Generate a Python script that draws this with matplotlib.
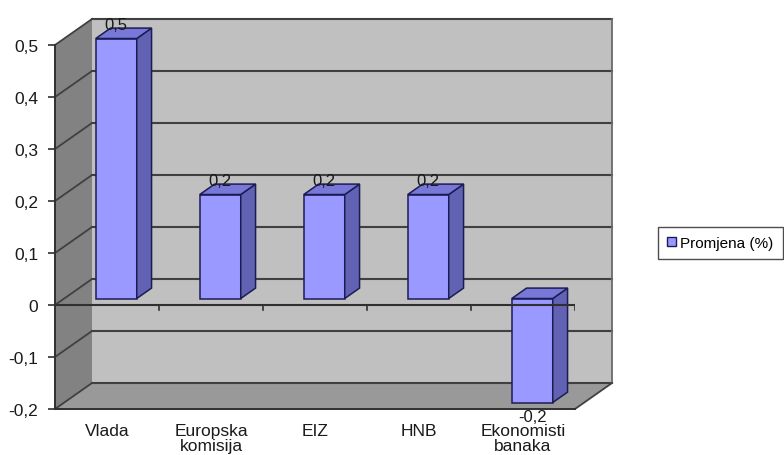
import matplotlib.pyplot as plt
from matplotlib.patches import Polygon, Patch

plt.rcParams['font.family'] = ['Liberation Sans', 'DejaVu Sans']

# data
categories = ['Vlada', 'Europska\nkomisija', 'EIZ', 'HNB', 'Ekonomisti\nbanaka']
values = [0.5, 0.2, 0.2, 0.2, -0.2]
yticks = [-0.2, -0.1, 0, 0.1, 0.2, 0.3, 0.4, 0.5]
ytick_labels = ['-0,2', '-0,1', '0', '0,1', '0,2', '0,3', '0,4', '0,5']
series_name = 'Promjena (%)'

# 3d look: depth offset in data units
DX, DY = 0.356, 0.05
f0, f1 = 0.25, 0.65   # bar depth (front, back) as fraction of full depth
half_w = 0.197

front_col = '#9999FF'
top_col = '#7878D8'
side_col = '#6262B4'
edge_col = '#1C1C55'
grid_col = '#404040'
txt_col = '#1a1a1a'

fig = plt.figure(figsize=(7.84, 4.56), dpi=100)
ax = fig.add_axes([55 / 784, 46 / 456, 520 / 784, 364 / 456])
n = len(categories)
ymin, ymax = yticks[0], yticks[-1]
ax.set_xlim(0, n)
ax.set_ylim(ymin, ymax)

# walls and floor
side = Polygon([(0, ymin), (0, ymax), (DX, ymax + DY), (DX, ymin + DY)],
               closed=True, fc='#828282', ec='none', clip_on=False, zorder=0)
back = Polygon([(DX, ymin + DY), (DX, ymax + DY), (n + DX, ymax + DY), (n + DX, ymin + DY)],
               closed=True, fc='#c0c0c0', ec='none', clip_on=False, zorder=0)
floor = Polygon([(0, ymin), (n, ymin), (n + DX, ymin + DY), (DX, ymin + DY)],
                closed=True, fc='#999999', ec='none', clip_on=False, zorder=0)
for p in (side, back, floor):
    ax.add_patch(p)

# gridlines on back wall and side wall
for v in yticks:
    ax.plot([DX, n + DX], [v + DY, v + DY], color=grid_col, lw=1.5, clip_on=False, zorder=1)
    ax.plot([0, DX], [v, v + DY], color=grid_col, lw=1.3, clip_on=False, zorder=1)
ax.plot([n + DX, n + DX], [ymin + DY, ymax + DY], color='#6a6a6a', lw=1.3, clip_on=False, zorder=1)
ax.plot([n, n + DX], [ymin, ymin + DY], color=grid_col, lw=1.3, clip_on=False, zorder=1)

# bars
for i, v in enumerate(values):
    xl = i + 0.5 - half_w + f0 * DX
    xr = i + 0.5 + half_w + f0 * DX
    y0 = f0 * DY
    lo, hi = min(0, v), max(0, v)
    ddx, ddy = (f1 - f0) * DX, (f1 - f0) * DY
    fr = Polygon([(xl, lo + y0), (xr, lo + y0), (xr, hi + y0), (xl, hi + y0)],
                 closed=True, fc=front_col, ec=edge_col, lw=1.1, clip_on=False, zorder=3)
    sd = Polygon([(xr, lo + y0), (xr + ddx, lo + y0 + ddy), (xr + ddx, hi + y0 + ddy), (xr, hi + y0)],
                 closed=True, fc=side_col, ec=edge_col, lw=1.1, clip_on=False, zorder=3)
    tp = Polygon([(xl, hi + y0), (xr, hi + y0), (xr + ddx, hi + y0 + ddy), (xl + ddx, hi + y0 + ddy)],
                 closed=True, fc=top_col, ec=edge_col, lw=1.1, clip_on=False, zorder=3)
    for p in (fr, sd, tp):
        ax.add_patch(p)
    lab = ('%g' % v).replace('.', ',')
    xc = (xl + xr) / 2
    if v >= 0:
        ax.text(xc, v + f1 * DY - 0.008, lab, ha='center', va='bottom', fontsize=12,
                color=txt_col, zorder=5)
    else:
        ax.text(xc, v + y0 - 0.013, lab, ha='center', va='top', fontsize=12,
                color=txt_col, zorder=5)

# category axis at zero with ticks
ax.plot([0, n], [0, 0], color='#303030', lw=1.5, zorder=4)
for i in range(1, n + 1):
    ax.plot([i, i], [0, -0.009], color='#303030', lw=1.2, zorder=4)

# axes styling
ax.set_yticks(yticks)
ax.set_yticklabels(ytick_labels)
ax.set_xticks([i + 0.5 for i in range(n)])
ax.set_xticklabels(categories, linespacing=1.0)
ax.tick_params(axis='y', length=5, width=1.2, color='#303030', pad=7, labelsize=12.5, labelcolor=txt_col)
ax.tick_params(axis='x', length=0, pad=10, labelsize=12.5, labelcolor=txt_col)
for s in ('top', 'right'):
    ax.spines[s].set_visible(False)
ax.spines['left'].set_color('#303030')
ax.spines['left'].set_linewidth(1.4)
ax.spines['bottom'].set_color('#303030')
ax.spines['bottom'].set_linewidth(1.4)
ax.set_facecolor('none')

handle = Patch(facecolor=front_col, edgecolor=edge_col, lw=1, label=series_name)
leg = fig.legend(handles=[handle], loc='center left', bbox_to_anchor=(0.829, 0.465),
                 fontsize=11, frameon=True, fancybox=False, edgecolor='#222222',
                 handlelength=0.6, handleheight=0.6, handletextpad=0.3, borderpad=0.6)
leg.get_frame().set_linewidth(1.0)

fig.savefig('out.png', dpi=100)
